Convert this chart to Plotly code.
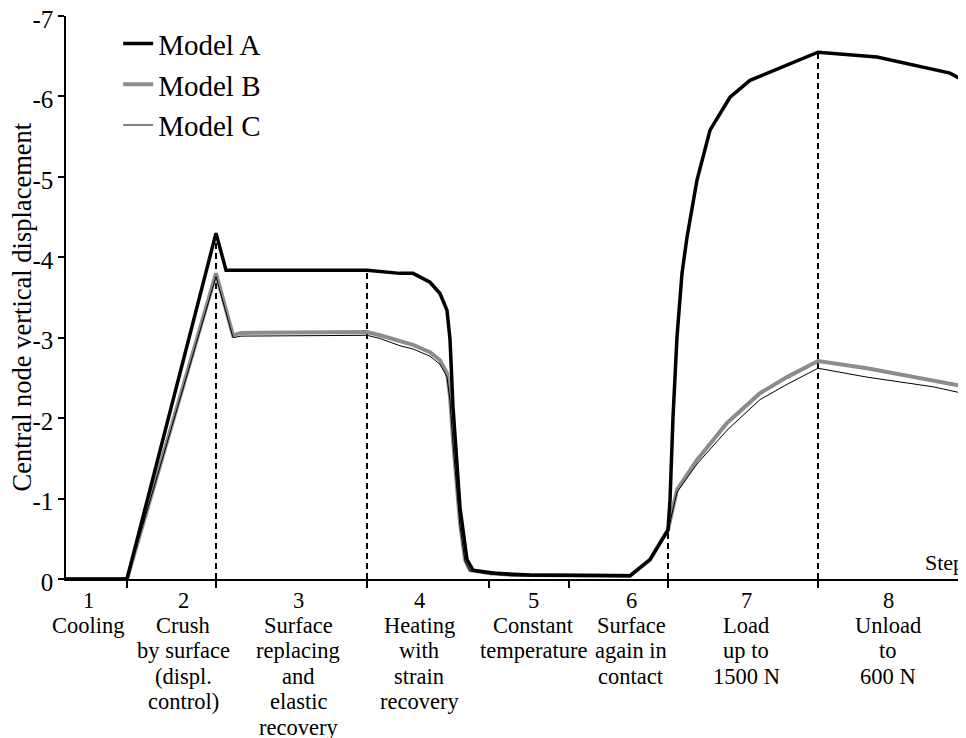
import numpy as np
import plotly.graph_objects as go

# pseudo-time axis (0..900), step boundaries
step_bounds = [61, 150, 301, 423, 503, 602, 752]
label_pos = [22, 117, 232, 353, 467, 565, 680, 822]
step_labels = [
    ["1", "Cooling"],
    ["2", "Crush", "by surface", "(displ.", "control)"],
    ["3", "Surface", "replacing", "and", "elastic", "recovery"],
    ["4", "Heating", "with", "strain", "recovery"],
    ["5", "Constant", "temperature"],
    ["6", "Surface", "again in", "contact"],
    ["7", "Load", "up to", "1500 N"],
    ["8", "Unload", "to", "600 N"],
]

y_ticks = [0, -1, -2, -3, -4, -5, -6, -7]
y_ticktext = ["0", "-1", "-2", "-3", "-4", "-5", "-6", "-7"]

a_x = [0, 61, 150, 160, 301, 334, 347, 364, 374, 381, 384, 387, 394, 401, 407, 431, 464, 564,
       584, 594, 602, 604, 607, 611, 616, 621, 631, 644, 664, 684, 717, 752, 811, 884, 900]
a_y = [0, 0, -4.30, -3.84, -3.84, -3.80, -3.80, -3.69, -3.55, -3.34, -2.98, -2.14, -0.89, -0.24,
       -0.11, -0.07, -0.05, -0.04, -0.24, -0.45, -0.61, -0.98, -2.01, -3.01, -3.80, -4.25, -4.96,
       -5.58, -5.99, -6.20, -6.37, -6.55, -6.49, -6.29, -6.18]

b_x = [0, 61, 150, 167, 175, 301, 314, 334, 347, 364, 374, 381, 384, 387, 394, 399, 404, 424, 447,
       564, 584, 594, 602, 611, 631, 661, 694, 721, 752, 801, 867, 900]
b_y = [0, 0, -3.80, -3.03, -3.06, -3.07, -3.03, -2.95, -2.91, -2.82, -2.72, -2.56, -2.27, -1.73,
       -0.70, -0.24, -0.11, -0.07, -0.05, -0.04, -0.24, -0.45, -0.61, -1.11, -1.48, -1.94, -2.31,
       -2.51, -2.71, -2.62, -2.47, -2.39]

c_x = b_x
c_y = [0, 0, -3.76, -3.00, -3.02, -3.03, -2.99, -2.90, -2.86, -2.77, -2.67, -2.51, -2.22, -1.68,
       -0.66, -0.22, -0.10, -0.06, -0.04, -0.03, -0.23, -0.44, -0.60, -1.08, -1.43, -1.85, -2.23,
       -2.42, -2.62, -2.51, -2.39, -2.30]

dashed_bounds = [step_bounds[1], step_bounds[2], step_bounds[5], step_bounds[6]]

FONT = "Liberation Serif, Times New Roman, serif"

fig = go.Figure()

for xb in dashed_bounds:
    top = float(np.interp(xb, a_x, a_y))
    fig.add_trace(go.Scatter(x=[xb, xb], y=[0, top], mode="lines",
                             line=dict(color="black", width=2, dash="6px,4px"),
                             showlegend=False, hoverinfo="skip"))

fig.add_trace(go.Scatter(x=b_x, y=b_y, mode="lines", name="Model B",
                         line=dict(color="#8c8c8c", width=4), legendrank=2))
fig.add_trace(go.Scatter(x=c_x, y=c_y, mode="lines", name="Model C",
                         line=dict(color="black", width=1), legendrank=3))
fig.add_trace(go.Scatter(x=a_x, y=a_y, mode="lines", name="Model A",
                         line=dict(color="black", width=3.5), legendrank=1))

annotations = [
    dict(text="Step", x=1, y=0, xref="paper", yref="y",
         xanchor="right", yanchor="bottom", yshift=2, showarrow=False,
         font=dict(size=22, family=FONT)),
    dict(text="Central node vertical displacement", x=0, y=0.5, xref="paper", yref="paper",
         xanchor="center", yanchor="middle", xshift=-45, yshift=-10, textangle=-90,
         borderpad=0, showarrow=False, font=dict(size=26.5, family=FONT)),
]
for xp, lines in zip(label_pos, step_labels):
    for i, line in enumerate(lines):
        annotations.append(dict(text=line, x=xp, y=0, xref="x", yref="paper",
                                xanchor="center", yanchor="middle",
                                yshift=-(21 + i * 25.4), showarrow=False,
                                font=dict(size=22.5, family=FONT)))

fig.update_layout(
    width=958, height=730,
    margin=dict(l=58, r=0, t=8, b=159),
    paper_bgcolor="white", plot_bgcolor="white",
    font=dict(family=FONT, color="black"),
    legend=dict(x=0.058, y=0.996, xanchor="left", yanchor="top",
                font=dict(size=29, family=FONT), bgcolor="rgba(0,0,0,0)",
                borderwidth=0, tracegroupgap=0),
    xaxis=dict(range=[0, 900], showgrid=False, zeroline=False, automargin=False,
               showline=True, linecolor="black", linewidth=1.5,
               tickmode="array", tickvals=step_bounds, showticklabels=False,
               ticks="outside", ticklen=7, tickwidth=1.5, tickcolor="black"),
    yaxis=dict(range=[0, -7], showgrid=False, zeroline=False, automargin=False,
               showline=True, linecolor="black", linewidth=1.5,
               tickmode="array", tickvals=y_ticks, ticktext=y_ticktext,
               ticks="outside", ticklen=6, tickwidth=1.5, tickcolor="black",
               ticklabeloverflow="allow", ticklabelshift=-3,
               tickfont=dict(size=25, family=FONT)),
    annotations=annotations,
)

fig.write_html("out.html")
